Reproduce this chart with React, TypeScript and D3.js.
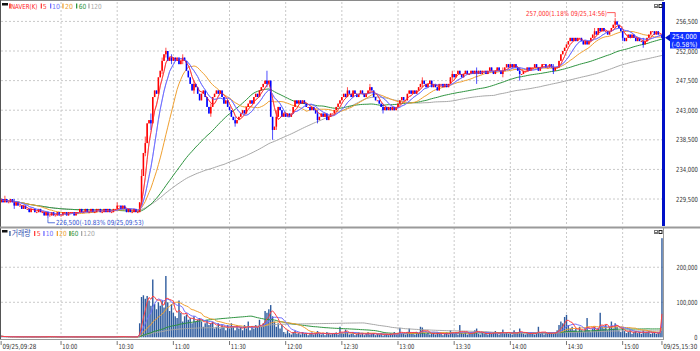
import * as d3 from "d3"

// closing prices per minute bar, thousands of won (09:28 .. 15:20, then 15:30)
const closes = [
  229.5, 229.0, 229.5, 229.0, 229.0, 229.5, 229.0, 228.5, 229.0, 228.5,
  228.5, 228.0, 228.5, 228.0, 228.0, 227.5, 228.0, 228.0, 227.5, 227.5,
  228.0, 227.5, 227.5, 227.0, 227.5, 227.0, 227.0, 227.5, 227.0, 227.0,
  227.5, 227.0, 227.0, 227.5, 227.5, 227.0, 227.5, 227.5, 227.5, 227.0,
  227.5, 227.5, 228.0, 227.5, 227.5, 228.0, 227.5, 227.5, 228.0, 227.5,
  227.5, 228.0, 228.0, 227.5, 227.5, 228.0, 227.5, 228.0, 227.5, 227.5,
  228.0, 228.0, 228.5, 228.5, 228.0, 228.5, 228.0, 227.5, 228.0, 227.5,
  227.5, 228.0, 227.5, 227.5, 229.0, 233.0, 236.5, 238.0, 241.0, 241.5,
  241.0, 245.0, 246.0, 245.5, 248.0, 249.0, 250.5, 251.5, 252.0, 250.5,
  251.0, 250.5, 251.0, 250.5, 251.0, 250.0, 250.5, 251.0, 250.5, 249.0,
  248.0, 247.0, 246.0, 247.0, 246.5, 245.5, 244.5, 245.5, 246.0, 245.0,
  243.5, 242.5, 243.5, 245.0, 245.5, 246.0, 245.5, 246.0, 245.0, 244.0,
  244.5, 243.5, 243.0, 242.0, 241.5, 241.0, 241.5, 242.0, 242.5, 243.0,
  242.5, 243.5, 244.0, 244.5, 244.0, 245.0, 245.5, 245.0, 246.0, 246.5,
  247.0, 247.5, 247.0, 247.5, 242.0, 240.0, 240.5, 242.0, 243.5, 243.0,
  242.0, 242.5, 242.0, 242.5, 242.0, 242.5, 243.5, 244.5, 244.0, 244.5,
  244.0, 244.5, 244.0, 243.5, 243.5, 243.0, 243.5, 243.0, 242.5, 241.5,
  242.0, 242.5, 242.0, 242.5, 241.5, 242.0, 242.5, 242.5, 243.0, 243.5,
  244.0, 244.5, 245.0, 245.5, 245.0, 246.0, 245.5, 245.0, 246.0, 245.5,
  245.0, 245.5, 246.0, 245.5, 245.0, 245.5, 246.0, 246.5, 246.0, 245.0,
  244.5, 244.5, 244.0, 243.5, 243.0, 243.5, 243.0, 243.5, 243.0, 243.5,
  243.0, 243.5, 244.0, 244.5, 245.0, 244.5, 244.5, 245.5, 246.0, 245.5,
  246.0, 245.5, 246.0, 246.5, 247.0, 247.5, 247.0, 246.5, 247.0, 247.5,
  246.5, 247.0, 246.5, 246.0, 247.0, 247.0, 246.5, 247.0, 246.5, 247.0,
  248.0, 248.5, 248.0, 248.5, 249.0, 248.5, 248.0, 248.5, 249.0, 248.5,
  248.5, 249.0, 248.5, 249.0, 248.5, 249.0, 248.5, 249.0, 249.0, 248.5,
  249.0, 249.5, 249.0, 248.5, 249.0, 249.5, 249.0, 248.5, 249.0, 249.5,
  250.0, 249.5, 250.0, 249.5, 250.0, 249.5, 249.0, 248.5, 248.5, 249.0,
  249.0, 249.5, 249.0, 249.5, 249.5, 250.0, 249.5, 249.0, 249.5, 250.0,
  250.0, 249.5, 249.5, 250.0, 249.5, 249.0, 249.5, 249.5, 250.5, 251.5,
  252.0, 252.5, 253.0, 253.5, 254.0, 253.5, 254.0, 253.5, 254.0, 254.0,
  253.5, 253.0, 253.5, 253.0, 253.5, 254.0, 254.5, 255.0, 254.5, 255.5,
  255.0, 255.5, 255.0, 255.0, 254.5, 255.0, 255.5, 256.0, 256.5, 256.0,
  255.5, 255.0, 254.0, 253.5, 254.0, 254.5, 254.0, 254.5, 254.0, 253.5,
  254.0, 253.5, 253.5, 253.0, 253.5, 254.0, 254.5, 255.0, 255.0, 254.5,
  255.0, 254.5, 254.5, 254.0,
]
const firstOpen = 229.0

// bars whose wick reaches past the body: [bar index, high, low]
const wicks: [number, number, number][] = [
  [2, 230.0, 229.0], [7, 229.5, 228.0], [25, 227.5, 226.5], [62, 229.0, 228.0],
  [75, 234.0, 228.5], [77, 239.0, 236.0], [80, 242.5, 240.0], [86, 251.0, 248.5],
  [88, 252.5, 251.0], [91, 251.5, 250.0], [97, 251.5, 250.0], [103, 247.5, 245.5],
  [112, 244.0, 242.0], [125, 242.0, 240.5], [142, 249.0, 246.5], [145, 242.0, 238.5],
  [147, 243.0, 240.0], [169, 243.0, 241.0], [185, 246.5, 245.0], [197, 247.0, 245.5],
  [204, 244.0, 242.5], [225, 248.0, 246.5], [241, 249.0, 247.5], [254, 249.5, 247.0],
  [268, 249.5, 248.0], [277, 249.5, 247.5], [295, 250.0, 248.5], [317, 255.5, 254.0],
  [328, 257.0, 255.5], [332, 255.0, 253.5], [343, 254.0, 252.5],
]

// volume per bar, thousands of shares
const volumes = [
  3, 2, 1.5, 2, 1, 1.5, 1, 2, 1, 1.5,
  1, 1.5, 1, 2, 1, 1.5, 1, 1, 2, 1,
  1.5, 1, 2, 1.5, 1, 3, 2, 1, 1.5, 1,
  1, 1.5, 1, 1, 2, 1, 1.5, 1, 1, 1.5,
  1, 1, 1.5, 1, 1, 2, 1, 1, 1.5, 1,
  1, 1.5, 1, 1, 1, 1.5, 1, 1, 1, 1.5,
  1, 1.5, 2, 2.5, 1.5, 2, 1.5, 1, 1.5, 1,
  1, 1.5, 1, 1.5, 40, 115, 120, 110, 118, 105,
  90, 165, 95, 80, 100, 90, 105, 85, 175, 100,
  75, 95, 70, 60, 55, 105, 70, 45, 60, 65,
  50, 55, 40, 60, 45, 50, 55, 45, 30, 40,
  50, 35, 40, 45, 25, 30, 40, 25, 35, 30,
  20, 35, 25, 40, 30, 20, 35, 25, 30, 20,
  35, 25, 45, 20, 30, 25, 35, 30, 50, 30,
  40, 75, 70, 80, 92, 60, 45, 30, 40, 25,
  35, 15, 10, 20, 12, 8, 15, 18, 10, 12,
  8, 15, 10, 12, 6, 10, 14, 8, 12, 18,
  10, 8, 12, 6, 15, 10, 8, 12, 10, 14,
  8, 30, 12, 10, 22, 15, 8, 10, 12, 6,
  10, 14, 8, 12, 6, 10, 15, 8, 10, 12,
  6, 10, 8, 12, 5, 8, 10, 6, 12, 8,
  15, 8, 10, 27, 12, 10, 8, 14, 25, 10,
  12, 8, 15, 10, 30, 28, 12, 10, 14, 8,
  10, 12, 8, 15, 10, 12, 6, 10, 14, 8,
  20, 12, 10, 15, 8, 35, 12, 10, 14, 8,
  10, 15, 12, 20, 25, 10, 8, 12, 10, 15,
  8, 12, 10, 14, 18, 10, 8, 12, 22, 10,
  15, 10, 12, 8, 20, 10, 14, 25, 12, 10,
  8, 12, 10, 15, 10, 8, 12, 30, 10, 14,
  8, 12, 10, 15, 12, 10, 14, 20, 35, 45,
  40, 58, 64, 35, 25, 30, 20, 25, 15, 30,
  20, 15, 25, 55, 20, 15, 25, 30, 20, 25,
  70, 30, 25, 35, 20, 30, 45, 25, 40, 30,
  20, 15, 25, 18, 12, 15, 20, 10, 15, 18,
  12, 15, 10, 20, 12, 15, 18, 10, 12, 15,
  10, 12, 14, 283,
]

const priceTicks = [229500, 234000, 238500, 243000, 247500, 252000, 256500]
const volumeTicks = [0, 100000, 200000]
const gridTimes = ["10:00", "10:30", "11:00", "11:30", "12:00", "12:30", "13:00", "13:30", "14:00", "14:30", "15:00"]
const maPeriods = [5, 10, 20, 60, 120]
const maColors = ["#ff4040", "#6f6fff", "#f0a030", "#2f9440", "#a8a8a8"]

const lastPrice = "254,000"
const lastChange = "(-0.58%)"
const highNote = "257,000(1.18% 09/25,14:56)"
const lowNote = "226,500(-10.83% 09/25,09:53)"

function buildTimes() {
  const out: string[] = []
  for (let m = 9 * 60 + 28; m <= 15 * 60 + 20; m++) {
    out.push(`${String(Math.floor(m / 60)).padStart(2, "0")}:${String(m % 60).padStart(2, "0")}`)
  }
  out.push("15:30")
  return out
}

function movingAvg(vals: number[], n: number) {
  return vals.map((_, i) => d3.mean(vals.slice(Math.max(0, i - n + 1), i + 1)) as number)
}

const FONT = "'DejaVu Sans', sans-serif"
const KFONT = "'Noto Sans CJK KR', sans-serif"

let measureCtx: CanvasRenderingContext2D | null = null
function measure(text: string, size: number, font: string) {
  if (!measureCtx) measureCtx = document.createElement("canvas").getContext("2d")
  if (!measureCtx) return text.length * size * 0.6
  measureCtx.font = `${size}px ${font}`
  return measureCtx.measureText(text).width
}

// text squeezed horizontally to the narrow bitmap font width of the original
function Txt(p: { x: number; y: number; w: number; fill?: string; children: string; size?: number; font?: string; end?: boolean }) {
  const size = p.size ?? 7
  const font = p.font ?? FONT
  const sx = p.w / measure(p.children, size, font)
  const x0 = p.end ? p.x - p.w : p.x
  return (
    <text
      transform={`translate(${x0},${p.y}) scale(${sx},1)`}
      fontSize={size}
      fontFamily={font}
      fill={p.fill ?? "#333"}
    >
      {p.children}
    </text>
  )
}

export default function App() {
  const times = buildTimes()
  const W = 700
  const H = 351
  const left = 1
  const right = 663
  const pTop = 2
  const pBottom = 226
  const vTop = 228
  const vBottom = 337.3

  const x = d3.scaleBand<string>().domain(times).range([0.2, 662.9])
  const cx = (i: number) => (x(times[i]) as number) + x.bandwidth() / 2
  const y = d3.scaleLinear().domain([225400, 259450]).range([pBottom, pTop])
  const yv = d3.scaleLinear().domain([0, 312000]).range([vBottom, vTop])

  const wickMap = new Map(wicks.map((w) => [w[0], w]))
  const candles = closes.map((c, i) => {
    const o = i === 0 ? firstOpen : closes[i - 1]
    const w = wickMap.get(i)
    const hi = w ? w[1] : Math.max(o, c)
    const lo = w ? w[2] : Math.min(o, c)
    return { o: o * 1000, c: c * 1000, h: hi * 1000, l: lo * 1000 }
  })

  const priceMA = maPeriods.map((n) => movingAvg(closes.map((c) => c * 1000), n))
  const volMA = maPeriods.map((n) => movingAvg(volumes.map((v) => v * 1000), n))

  const pLine = d3
    .line<number>()
    .x((_, i) => cx(i))
    .y((d) => y(d))
  const vLine = d3
    .line<number>()
    .x((_, i) => cx(i))
    .y((d) => yv(d))

  const bodyW = 1.55
  const volW = 1.4
  const grid = "#c9c9c9"
  const gridTicks = gridTimes.map((t) => cx(times.indexOf(t)))

  const lowIdx = 25
  const highIdx = 328

  const timeLabels: [string, number, number][] = [
    ["09/25,09:28", 0, 34],
    ...gridTimes.map((t) => [t, times.indexOf(t), 15] as [string, number, number]),
    ["09/25,15:30", times.length - 1, 34],
  ]

  return (
    <svg width={W} height={H} style={{ position: "absolute", left: 0, top: 0, background: "#fff" }}>
      <defs>
        <clipPath id="pclip">
          <rect x={left} y={pTop} width={right - left} height={pBottom - pTop} />
        </clipPath>
      </defs>
      <rect width={W} height={H} fill="#fff" />

      {/* grid */}
      {priceTicks.map((t) => (
        <line key={t} x1={left} x2={right} y1={y(t)} y2={y(t)} stroke={grid} strokeDasharray="2,2" />
      ))}
      {volumeTicks.slice(1).map((t) => (
        <line key={t} x1={left} x2={right} y1={yv(t)} y2={yv(t)} stroke={grid} strokeDasharray="2,2" />
      ))}
      {gridTicks.map((gx, k) => (
        <g key={k}>
          <line x1={gx} x2={gx} y1={pTop} y2={pBottom} stroke={grid} strokeDasharray="2,2" />
          <line x1={gx} x2={gx} y1={vTop} y2={339} stroke={grid} strokeDasharray="2,2" />
        </g>
      ))}

      {/* moving averages and candles */}
      <g clipPath="url(#pclip)">
        {priceMA
          .map((ma, k) => (
            <path key={k} d={pLine(ma) as string} fill="none" stroke={maColors[k]} strokeWidth={1} />
          ))
          .reverse()}
        {candles.map((d, i) => {
          const up = d.c >= d.o
          const col = up ? "#ff0000" : "#0000ff"
          const yTop = y(Math.max(d.o, d.c))
          const yBot = y(Math.min(d.o, d.c))
          return (
            <g key={i}>
              <line x1={cx(i)} x2={cx(i)} y1={y(d.h)} y2={y(d.l)} stroke={col} strokeWidth={0.7} />
              <rect x={cx(i) - bodyW / 2} y={yTop} width={bodyW} height={Math.max(0.9, yBot - yTop)} fill={col} />
            </g>
          )
        })}
        {priceMA.slice(0, 2).map((ma, k) => (
          <path key={k} d={pLine(ma) as string} fill="none" stroke={maColors[k]} strokeWidth={0.8} opacity={0.7} />
        ))}
      </g>

      {/* volume */}
      {volumes.map((v, i) => (
        <rect
          key={i}
          x={cx(i) - volW / 2}
          y={yv(v * 1000)}
          width={volW}
          height={vBottom - yv(v * 1000)}
          fill="#2f5c9e"
        />
      ))}
      {volMA
        .map((ma, k) => <path key={k} d={vLine(ma) as string} fill="none" stroke={maColors[k]} strokeWidth={1} />)
        .reverse()}

      {/* frame */}
      <line x1={0} x2={right + 1} y1={0.5} y2={0.5} stroke="#8a8a8a" />
      <line x1={0.5} x2={0.5} y1={0} y2={340} stroke="#555" />
      <line x1={0} x2={W} y1={227.5} y2={227.5} stroke="#9a9a9a" strokeWidth={2} />
      <line x1={0} x2={right} y1={339.5} y2={339.5} stroke="#9a9a9a" />
      <line x1={right + 0.5} x2={right + 0.5} y1={vTop} y2={340} stroke="#9a9a9a" />
      <rect x={662} y={2} width={3} height={pBottom - 2} fill="#0010c8" />

      {/* window icons */}
      {[4, vTop + 2].map((iy) => (
        <g key={iy}>
          <rect x={654} y={iy} width={4} height={4} fill="#777" />
          <rect x={655} y={iy + 1} width={2} height={1} fill="#fff" />
          <rect x={658.5} y={iy} width={4} height={4} fill="#222" />
          <rect x={659.5} y={iy + 1} width={2} height={2} fill="#fff" />
        </g>
      ))}

      {/* legends */}
      <rect x={2} y={3} width={6} height={2.5} fill="#111" />
      <rect x={9.3} y={3.5} width={1.3} height={5} fill="#ff0000" />
      <Txt x={11} y={8.6} w={26.5} fill="#ff2020">NAVER(K)</Txt>
      {[
        ["5", 40.7, 42.7, 4],
        ["10", 50, 52, 8],
        ["20", 62.3, 65, 8],
        ["60", 76, 78.7, 7.5],
        ["120", 88.3, 90.7, 11],
      ].map(([t, mx, tx, tw], k) => (
        <g key={k}>
          <rect x={mx as number} y={3.5} width={1.3} height={5} fill={maColors[k]} />
          <Txt x={tx as number} y={8.6} w={tw as number} fill={maColors[k]}>
            {t as string}
          </Txt>
        </g>
      ))}

      <rect x={2} y={230} width={5.5} height={2.5} fill="#111" />
      <rect x={9.3} y={231} width={1.3} height={5} fill="#2f5c9e" />
      <Txt x={11.7} y={236.2} w={19} fill="#3050b0" font={KFONT} size={7.5}>거래량</Txt>
      {[
        ["5", 34, 36.7, 4],
        ["10", 43.3, 45.7, 7.6],
        ["20", 56.7, 59.3, 7.4],
        ["60", 69.3, 71, 7.3],
        ["120", 81, 83.3, 11.7],
      ].map(([t, mx, tx, tw], k) => (
        <g key={k}>
          <rect x={mx as number} y={231} width={1.3} height={5} fill={maColors[k]} />
          <Txt x={tx as number} y={236.2} w={tw as number} fill={maColors[k]}>
            {t as string}
          </Txt>
        </g>
      ))}

      {/* high / low notes */}
      <Txt x={526} y={15.5} w={81} fill="#ff3030">{highNote}</Txt>
      <path
        d={`M${cx(highIdx) - 8},${y(257000) - 5.5} H${cx(highIdx)} V${y(257000) - 1}`}
        fill="none"
        stroke="#ff3030"
        strokeWidth={0.8}
      />
      <path
        d={`M${cx(lowIdx)},${y(226500) + 0.5} V${y(226500) + 4} H${cx(lowIdx) + 7}`}
        fill="none"
        stroke="#3050d0"
        strokeWidth={0.8}
      />
      <Txt x={56} y={225.3} w={88} fill="#3050d0">{lowNote}</Txt>

      {/* right axes */}
      {priceTicks.map((t) => (
        <Txt key={t} x={698} y={y(t) + 2.5} w={22} end>
          {d3.format(",")(t)}
        </Txt>
      ))}
      {volumeTicks.map((t) => (
        <Txt key={t} x={697.5} y={yv(t) + 2.5} w={t === 0 ? 3.2 : 21} end>
          {d3.format(",")(t)}
        </Txt>
      ))}

      {/* current price tag */}
      <path d={`M665,${y(254000)} L670,${y(254000) - 3.5} L670,${y(254000) + 3.5} Z`} fill="#0010c8" />
      <rect x={670} y={32} width={30} height={16.5} fill="#1030ff" />
      <Txt x={672} y={39.3} w={25} fill="#fff">{lastPrice}</Txt>
      <Txt x={671.5} y={47} w={26} fill="#fff">{lastChange}</Txt>

      {/* time axis */}
      {timeLabels.map(([label, idx, w], k) => {
        const tx = cx(idx)
        const lx = Math.min(tx + 1.3, W - 1 - w)
        return (
          <g key={k}>
            <line x1={tx} x2={tx} y1={341} y2={345} stroke="#555" strokeWidth={0.8} />
            <Txt x={lx} y={348.6} w={w}>
              {label}
            </Txt>
          </g>
        )
      })}
    </svg>
  )
}
